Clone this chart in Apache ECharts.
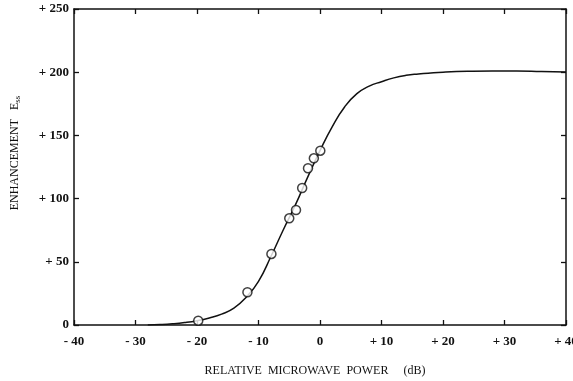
<!DOCTYPE html>
<html>
<head>
<meta charset="utf-8">
<script src="https://cdn.jsdelivr.net/npm/echarts@6/dist/echarts.min.js"></script>
<style>
  html, body { margin: 0; padding: 0; background: #fff; }
  #chart { width: 573px; height: 381px; }
</style>
</head>
<body>
<div id="chart"></div>
<script>
// measured points (dB, enhancement)
const pointPower = [-19.8, -11.8, -7.9, -5.0, -3.9, -2.9, -1.95, -1.0, 0.05]
const pointEnh = [3.4, 25.9, 56.2, 84.4, 91.0, 108.4, 124.0, 131.9, 137.9]

// fitted curve
const curvePower = [-28, -26, -24, -22, -20, -18, -16, -14, -12, -10, -8, -6, -4, -2, 0, 2, 4, 6, 8, 10, 12, 14, 16, 18, 20, 24, 28, 32, 36, 40]
const curveEnh = [0, 0.3, 0.9, 1.9, 3.4, 5.6, 8.6, 13.3, 22, 34.5, 54, 75, 95, 117, 138, 157, 172.5, 183, 189, 192.5, 195.5, 197.5, 198.6, 199.4, 200, 200.7, 201, 201, 200.6, 200.2]

const xTicks = [-40, -30, -20, -10, 0, 10, 20, 30, 40]
const yTicks = [0, 50, 100, 150, 200, 250]

const FONT = 'Liberation Serif'

function signed(v) {
  if (v > 0) return '+ ' + v
  if (v < 0) return '- ' + Math.abs(v)
  return '0'
}

const chart = echarts.init(document.getElementById('chart'), null, { renderer: 'canvas' })

const axisLine = { onZero: false, lineStyle: { color: '#111', width: 1.5 } }
const axisTick = { inside: true, length: 5, lineStyle: { color: '#111', width: 1.3 } }

chart.setOption({
  animation: false,
  backgroundColor: '#fff',
  grid: { left: 74, right: 7, top: 9, bottom: 56, outerBoundsMode: 'none' },
  xAxis: [
    {
      type: 'value', min: -40, max: 40, interval: 10,
      axisLine, axisTick, splitLine: { show: false },
      axisLabel: {
        formatter: signed, margin: 10, color: '#111',
        fontFamily: FONT, fontWeight: 'bold', fontSize: 13
      },
      name: 'RELATIVE  MICROWAVE  POWER     (dB)',
      nameLocation: 'middle', nameGap: 40,
      nameTextStyle: { fontFamily: FONT, fontSize: 12, color: '#111', padding: [0, 0, 0, -10] }
    },
    {
      type: 'value', min: -40, max: 40, interval: 10, position: 'top',
      axisLine, axisTick, axisLabel: { show: false }, splitLine: { show: false }
    }
  ],
  yAxis: [
    {
      type: 'value', min: 0, max: 250, interval: 50,
      axisLine, axisTick, splitLine: { show: false },
      axisLabel: {
        formatter: signed, margin: 5, color: '#111',
        fontFamily: FONT, fontWeight: 'bold', fontSize: 13
      },
      name: '{a|ENHANCEMENT   E}{s|ss}',
      nameLocation: 'middle', nameRotate: 90, nameGap: 52,
      nameTextStyle: {
        padding: [0, 0, 0, 28],
        rich: {
          a: { fontFamily: FONT, fontSize: 12, color: '#111' },
          s: { fontFamily: FONT, fontSize: 9, color: '#111', verticalAlign: 'bottom', padding: [6, 0, 0, 0] }
        }
      }
    },
    {
      type: 'value', min: 0, max: 250, interval: 50, position: 'right',
      axisLine, axisTick, axisLabel: { show: false }, splitLine: { show: false }
    }
  ],
  series: [
    {
      type: 'line',
      data: curvePower.map((p, i) => [p, curveEnh[i]]),
      smooth: 0.5,
      showSymbol: false,
      lineStyle: { color: '#111', width: 1.5 },
      z: 2
    },
    {
      type: 'scatter',
      data: pointPower.map((p, i) => [p, pointEnh[i]]),
      symbol: 'circle',
      symbolSize: 9,
      itemStyle: { color: '#fff', borderColor: '#111', borderWidth: 1.5 },
      z: 3
    }
  ]
})
</script>
</body>
</html>
